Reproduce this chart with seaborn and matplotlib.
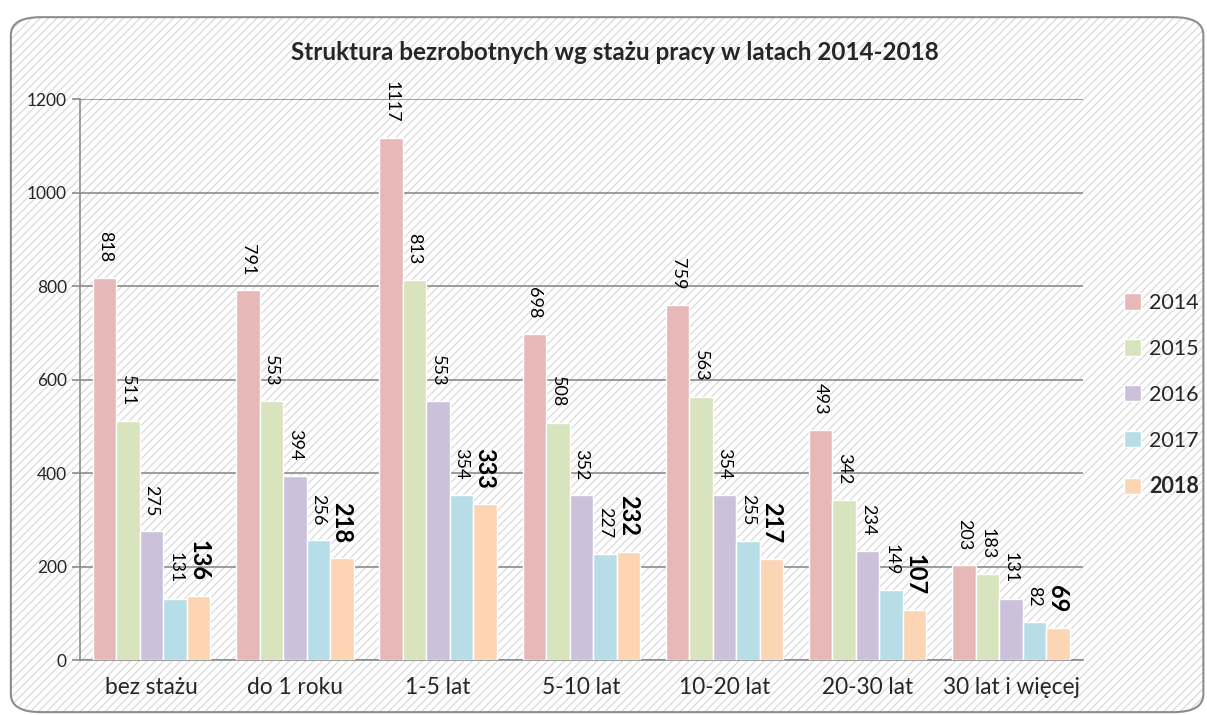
import pandas as pd
import matplotlib
matplotlib.use("Agg")
import matplotlib.pyplot as plt
from matplotlib.patches import FancyBboxPatch
import seaborn as sns

categories = ["bez stażu", "do 1 roku", "1-5 lat", "5-10 lat", "10-20 lat", "20-30 lat", "30 lat i więcej"]
years = ["2014", "2015", "2016", "2017", "2018"]
v2014 = [818, 791, 1117, 698, 759, 493, 203]
v2015 = [511, 553, 813, 508, 563, 342, 183]
v2016 = [275, 394, 553, 352, 354, 234, 131]
v2017 = [131, 256, 354, 227, 255, 149, 82]
v2018 = [136, 218, 333, 232, 217, 107, 69]
colors = ["#E6B9B8", "#D7E4BD", "#CCC1DA", "#B7DEE8", "#FCD5B5"]

rows = []
for year, vals in zip(years, [v2014, v2015, v2016, v2017, v2018]):
    for cat, v in zip(categories, vals):
        rows.append({"staz": cat, "rok": year, "liczba": v})
df = pd.DataFrame(rows)

sns.set_style("white")
plt.rcParams["font.family"] = ["Lato", "DejaVu Sans"]
plt.rcParams["hatch.linewidth"] = 0.8

fig = plt.figure(figsize=(12.07, 7.15), dpi=100)

# hatched background with rounded border
bg = FancyBboxPatch((0.009, 0.004), 0.988, 0.972, boxstyle="round,pad=0,rounding_size=0.025",
                    transform=fig.transFigure, facecolor="white", edgecolor="#d6d6d6",
                    hatch="////", linewidth=0, zorder=-2)
fig.patches.append(bg)
border = FancyBboxPatch((0.009, 0.004), 0.988, 0.972, boxstyle="round,pad=0,rounding_size=0.025",
                        transform=fig.transFigure, facecolor="none", edgecolor="#8c8c8c",
                        linewidth=1.5, zorder=-1)
fig.patches.append(border)

ax = fig.add_axes([0.0663, 0.0769, 0.8306, 0.7846])
ax.set_zorder(2)
ax.set_facecolor("none")

sns.barplot(data=df, x="staz", y="liczba", hue="rok", palette=colors, width=0.82, gap=0,
            saturation=1, ax=ax, zorder=3, legend=True)

for i, cont in enumerate(ax.containers):
    bold = years[i] == "2018"
    ax.bar_label(cont, rotation=270, padding=11, fontsize=17 if bold else 13,
                 fontweight="bold" if bold else "normal", color="black")

ax.set_ylim(0, 1200)
ax.set_yticks(range(0, 1201, 200))
ax.set_xlim(-0.5, len(categories) - 0.5)
ax.yaxis.grid(True, color="#8c8c8c", linewidth=1.2, zorder=0)
ax.set_axisbelow(True)
for s in ["top", "right"]:
    ax.spines[s].set_visible(False)
for s in ["left", "bottom"]:
    ax.spines[s].set_color("#8c8c8c")
    ax.spines[s].set_linewidth(1.2)

ax.set_xticks([i - 0.5 for i in range(len(categories) + 1)], minor=True)
ax.tick_params(axis="x", which="minor", length=7, color="#8c8c8c", width=1.2)
ax.tick_params(axis="x", which="major", length=0, labelsize=16.3, pad=12)
ax.tick_params(axis="y", length=6, color="#8c8c8c", width=1.2, labelsize=12.5, left=True)
ax.set_xlabel("")
ax.set_ylabel("")

fig.text(0.5095, 0.927, "Struktura bezrobotnych wg stażu pracy w latach 2014-2018", fontsize=17.5,
         fontweight="bold", ha="center", va="center")

leg = ax.legend(loc="center left", bbox_to_anchor=(1.022, 0.472), frameon=False, fontsize=15.5,
                handlelength=0.8, handleheight=0.8, labelspacing=1.2, handletextpad=0.35)
for t in leg.get_texts():
    if t.get_text() == "2018":
        t.set_fontweight("bold")

fig.savefig("out.png", dpi=100)
